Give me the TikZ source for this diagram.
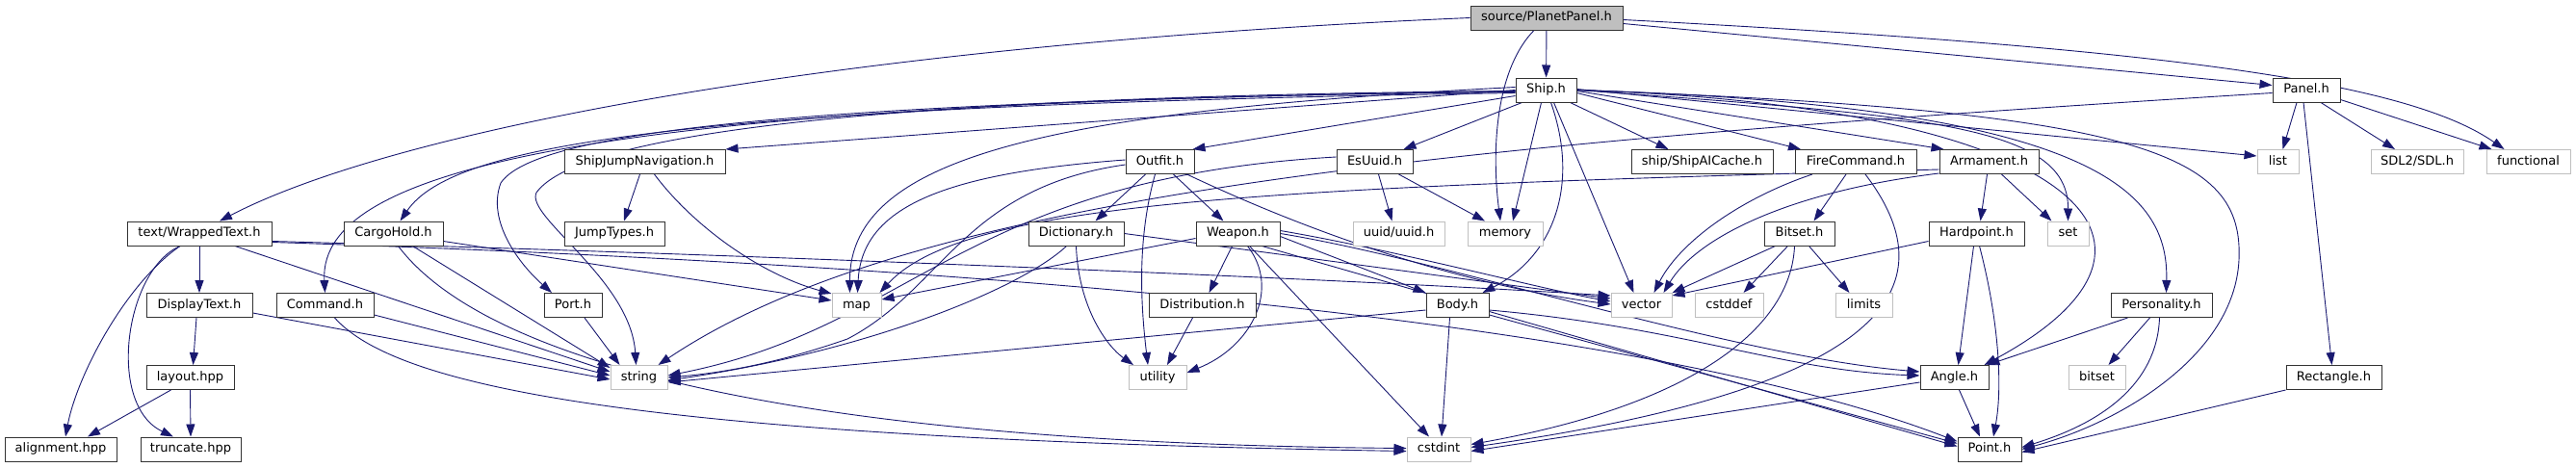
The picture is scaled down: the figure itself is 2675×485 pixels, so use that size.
\documentclass[tikz,border=0pt]{standalone}
\usepackage{fontspec}
\setmainfont{DejaVu Sans}
\usetikzlibrary{arrows.meta}
\definecolor{edgec}{RGB}{25,25,112}
\definecolor{grayb}{RGB}{191,191,191}
\pgfdeclarelayer{bg}
\pgfsetlayers{bg,main}
\begin{document}
\begin{tikzpicture}[x=1pt,y=1pt,
  hdr/.style={draw=black!80, line width=1pt, fill=white, minimum height=25pt, inner sep=0pt,
    text height=9.5pt, text depth=2.6pt, font=\fontsize{13}{15}\selectfont},
  sys/.style={hdr, draw=grayb},
  root/.style={hdr, fill=grayb},
  dep/.style={draw=edgec, line width=0.9pt, line join=round, -{Triangle[length=13pt,width=9pt]}}
]
\useasboundingbox (0,0) rectangle (2675,-485);
% row 0 / 1
\node[root, minimum width=158pt] (pp) at (1606,-18.5) {source/PlanetPanel.h};
\node[hdr, minimum width=63pt] (ship) at (1605.5,-93.5) {Ship.h};
\node[hdr, minimum width=70pt] (panel) at (2395,-93.5) {Panel.h};
% row 2
\node[hdr, minimum width=167pt] (sjn) at (669.5,-168) {ShipJumpNavigation.h};
\node[hdr, minimum width=71pt] (outfit) at (1204.5,-168) {Outfit.h};
\node[hdr, minimum width=79pt] (esuuid) at (1427.5,-168) {EsUuid.h};
\node[hdr, minimum width=147pt] (aic) at (1767.5,-168) {ship/ShipAICache.h};
\node[hdr, minimum width=126pt] (fc) at (1927,-168) {FireCommand.h};
\node[hdr, minimum width=103pt] (arm) at (2065.5,-168) {Armament.h};
\node[sys, minimum width=43pt] (list) at (2365.5,-168) {list};
\node[sys, minimum width=96pt] (sdl) at (2510,-168) {SDL2/SDL.h};
\node[sys, minimum width=87pt] (func) at (2625.5,-168) {functional};
% row 3
\node[hdr, minimum width=150pt] (wt) at (207,-242.5) {text/WrappedText.h};
\node[hdr, minimum width=103pt] (cargo) at (408.5,-242.5) {CargoHold.h};
\node[hdr, minimum width=104pt] (jump) at (638,-242.5) {JumpTypes.h};
\node[hdr, minimum width=99pt] (dict) at (1117.5,-242.5) {Dictionary.h};
\node[hdr, minimum width=87pt] (weapon) at (1285.5,-242.5) {Weapon.h};
\node[sys, minimum width=95pt] (uuid) at (1452.5,-242.5) {uuid/uuid.h};
\node[sys, minimum width=78pt] (memory) at (1563,-242.5) {memory};
\node[hdr, minimum width=73pt] (bitseth) at (1868.5,-242.5) {Bitset.h};
\node[hdr, minimum width=99pt] (hard) at (2052.5,-242.5) {Hardpoint.h};
\node[sys, minimum width=43pt] (set) at (2147.5,-242.5) {set};
% row 4
\node[hdr, minimum width=110pt] (disp) at (207,-317) {DisplayText.h};
\node[hdr, minimum width=101pt] (cmd) at (337.5,-317) {Command.h};
\node[hdr, minimum width=60pt] (port) at (595,-317) {Port.h};
\node[sys, minimum width=51pt] (map) at (889.5,-317) {map};
\node[hdr, minimum width=111pt] (distr) at (1248.5,-317) {Distribution.h};
\node[hdr, minimum width=65pt] (body) at (1513.5,-317) {Body.h};
\node[sys, minimum width=63pt] (vector) at (1704.5,-317) {vector};
\node[sys, minimum width=71pt] (cstddef) at (1795.5,-317) {cstddef};
\node[sys, minimum width=59pt] (limits) at (1935.5,-317) {limits};
\node[hdr, minimum width=105pt] (pers) at (2244.5,-317) {Personality.h};
% row 5
\node[hdr, minimum width=91pt] (layout) at (197.5,-392) {layout.hpp};
\node[sys, minimum width=59pt] (string) at (663.5,-392) {string};
\node[sys, minimum width=60pt] (utility) at (1202,-392) {utility};
\node[hdr, minimum width=71pt] (angle) at (2029.5,-392) {Angle.h};
\node[sys, minimum width=59pt] (bitsetstd) at (2177.5,-392) {bitset};
\node[hdr, minimum width=99pt] (rect) at (2423.5,-392) {Rectangle.h};
% row 6
\node[hdr, minimum width=116pt] (align) at (63,-466.5) {alignment.hpp};
\node[hdr, minimum width=104pt] (trunc) at (198,-466.5) {truncate.hpp};
\node[sys, minimum width=66pt] (cstdint) at (1494,-466.5) {cstdint};
\node[hdr, minimum width=66pt] (point) at (2066,-466.5) {Point.h};

\begin{pgfonlayer}{bg}
% PlanetPanel
\draw[dep] (pp) -- (ship);
\draw[dep] ([xshift=-13pt]pp.south) .. controls (1555,-70) and (1548,-150) .. ([xshift=-5pt]memory.north);
\draw[dep] ([yshift=-6pt]pp.east) -- ([yshift=5pt]panel.west);
\draw[dep] ([yshift=-2pt]pp.east) .. controls (2250,-50) and (2500,-85) .. ([xshift=-25pt]func.north);
\draw[dep] (pp.west) .. controls (900,-45) and (420,-130) .. ([xshift=21pt]wt.north);
% Ship
\draw[dep] (ship.west) -- (sjn.north east);
\draw[dep] ([yshift=-3pt]ship.west) .. controls (700,-110) and (470,-150) .. ([xshift=7pt]cargo.north);
\draw[dep] ([yshift=-2pt]ship.west) .. controls (640,-105) and (330,-170) .. (cmd.north);
\draw[dep] ([yshift=-1pt]ship.west) .. controls (900,-105) and (560,-130) .. (520,-190) .. controls (505,-230) and (540,-275) .. ([xshift=-22pt]port.north);
\draw[dep] ([yshift=-1pt]ship.west) .. controls (900,-100) and (600,-140) .. (557,-200) .. controls (545,-225) and (655,-290) .. ([xshift=-3pt]string.north);
\draw[dep] ([yshift=3pt]ship.west) .. controls (1100,-115) and (882,-160) .. ([xshift=-7pt]map.north);
\draw[dep] ([yshift=-6pt]ship.west) -- ([xshift=-2pt]outfit.north east);
\draw[dep] ([xshift=-25pt]ship.south) -- ([xshift=30pt]esuuid.north);
\draw[dep] ([xshift=-5pt]ship.south) -- ([xshift=8pt]memory.north);
\draw[dep] ([xshift=5pt]ship.south) .. controls (1640,-190) and (1615,-265) .. ([xshift=26pt]body.north);
\draw[dep] ([xshift=8pt]ship.south) -- ([xshift=-8pt]vector.north);
\draw[dep] ([xshift=25pt]ship.south) -- ([xshift=-35pt]aic.north);
\draw[dep] ([yshift=-3pt]ship.east) -- ([xshift=-57pt]fc.north);
\draw[dep] ([yshift=-1pt]ship.east) -- ([xshift=5pt]arm.north west);
\draw[dep] (ship.east) .. controls (2000,-120) and (2148,-130) .. (set.north);
\draw[dep] (ship.east) .. controls (2150,-110) and (2300,-250) .. ([xshift=-5pt]angle.north east);
\draw[dep] ([yshift=1pt]ship.east) -- ([yshift=6pt]list.west);
\draw[dep] (ship.east) .. controls (2180,-110) and (2252,-200) .. ([xshift=5pt]pers.north);
\draw[dep] (ship.east) .. controls (2230,-115) and (2330,-160) .. (2325,-270) .. controls (2320,-370) and (2200,-440) .. (point.east);
% Panel
\draw[dep] ([xshift=-10pt]panel.south) -- ([xshift=5pt]list.north);
\draw[dep] ([xshift=-3pt]panel.south) -- ([xshift=-2pt]rect.north);
\draw[dep] ([xshift=15pt]panel.south) -- ([xshift=-23pt]sdl.north);
\draw[dep] ([yshift=-10pt]panel.east) -- ([xshift=-38pt]func.north);
\draw[dep] ([yshift=-3pt]panel.west) .. controls (1500,-150) and (950,-200) .. ([xshift=-10pt]string.north east);
% Outfit
\draw[dep] ([yshift=2pt]outfit.west) .. controls (980,-180) and (895,-215) .. ([xshift=1pt]map.north);
\draw[dep] ([yshift=-3pt]outfit.west) .. controls (1000,-195) and (980,-300) .. (880,-352) .. controls (800,-380) and (740,-388) .. (string.east);
\draw[dep] ([xshift=-15pt]outfit.south) -- ([xshift=20pt]dict.north);
\draw[dep] ([xshift=14pt]outfit.south) -- ([xshift=-15pt]weapon.north);
\draw[dep] ([xshift=-5pt]outfit.south) .. controls (1180,-250) and (1185,-320) .. ([xshift=-10pt]utility.north);
\draw[dep] ([xshift=-8pt]outfit.south east) .. controls (1400,-260) and (1550,-300) .. ([yshift=1pt]vector.west);
% Weapon
\draw[dep] ([yshift=-5pt]weapon.west) -- ([yshift=6pt]map.east);
\draw[dep] ([xshift=-6pt]weapon.south) -- ([xshift=7pt]distr.north);
\draw[dep] ([xshift=10pt]weapon.south) .. controls (1330,-300) and (1300,-360) .. ([yshift=5pt]utility.east);
\draw[dep] ([yshift=-3pt]weapon.east) -- (body.north west);
\draw[dep] ([yshift=3pt]weapon.east) .. controls (1450,-260) and (1600,-300) .. ([yshift=4pt]vector.west);
\draw[dep] (weapon.east) .. controls (1500,-270) and (1800,-370) .. ([yshift=6pt]angle.west);
\draw[dep] ([xshift=25pt]weapon.south) -- ([yshift=3pt]point.west);
\draw[dep] ([xshift=12pt]weapon.south) -- ([xshift=-10pt]cstdint.north);
% Dictionary
\draw[dep] (dict.east) -- ([yshift=7pt]vector.west);
\draw[dep] ([xshift=-10pt]dict.south) .. controls (1060,-300) and (900,-365) .. ([yshift=-3pt]string.east);
\draw[dep] (dict.south) .. controls (1120,-320) and (1150,-360) .. ([xshift=-25pt]utility.north);
\draw[dep] ([xshift=-10pt]distr.south) -- ([xshift=10pt]utility.north);
% Body
\draw[dep] ([yshift=-5pt]body.west) -- ([yshift=-5pt]string.east);
\draw[dep] ([xshift=-8pt]body.south) -- ([xshift=3pt]cstdint.north);
\draw[dep] ([yshift=-5pt]body.east) .. controls (1750,-340) and (1850,-385) .. ([yshift=2pt]angle.west);
\draw[dep] ([yshift=-10pt]body.east) -- ([yshift=6pt]point.west);
% EsUuid
\draw[dep] ([xshift=4pt]esuuid.south) -- ([xshift=-7pt]uuid.north);
\draw[dep] ([xshift=25pt]esuuid.south) -- ([xshift=-21pt]memory.north);
\draw[dep] ([yshift=5pt]esuuid.west) .. controls (1000,-185) and (950,-340) .. ([yshift=2pt]string.east);
% CargoHold
\draw[dep] ([yshift=-8pt]cargo.east) -- ([yshift=5pt]map.west);
\draw[dep] ([xshift=20pt]cargo.south) -- ([yshift=10pt]string.west);
\draw[dep] ([xshift=5pt]cargo.south) .. controls (500,-370) and (800,-460) .. ([yshift=1pt]cstdint.west);
% Command
\draw[dep] ([yshift=-10pt]cmd.east) -- ([yshift=2pt]string.west);
\draw[dep] ([xshift=10pt]cmd.south) .. controls (410,-400) and (650,-455) .. ([yshift=-2pt]cstdint.west);
% Port
\draw[dep] ([xshift=12pt]port.south) -- ([xshift=-20pt]string.north);
% ShipJumpNavigation
\draw[dep] ([xshift=-5pt]sjn.south) -- ([xshift=10pt]jump.north);
\draw[dep] ([xshift=10pt]sjn.south) .. controls (720,-235) and (790,-285) .. ([yshift=12pt]map.west);
% WrappedText
\draw[dep] (wt) -- (disp);
\draw[dep] ([xshift=-20pt]wt.south) .. controls (130,-295) and (80,-390) .. ([xshift=5pt]align.north);
\draw[dep] ([xshift=-20pt]wt.south) .. controls (130,-280) and (110,-420) .. ([xshift=-18pt]trunc.north);
\draw[dep] ([xshift=37pt]wt.south) -- ([yshift=6pt]string.west);
\draw[dep] ([yshift=-8pt]wt.east) .. controls (800,-265) and (1400,-290) .. ([yshift=10pt]vector.west);
\draw[dep] ([yshift=-9pt]wt.east) .. controls (1000,-275) and (1700,-330) .. ([yshift=8pt]point.west);
% DisplayText
\draw[dep] ([xshift=-3pt]disp.south) -- ([xshift=3pt]layout.north);
\draw[dep] ([yshift=-8pt]disp.east) -- ([yshift=-2pt]string.west);
% layout
\draw[dep] ([xshift=-20pt]layout.south) -- ([xshift=28pt]align.north);
\draw[dep] (layout.south) -- (trunc.north);
% FireCommand
\draw[dep] ([xshift=-10pt]fc.south) -- ([xshift=15pt]bitseth.north);
\draw[dep] ([xshift=-45pt]fc.south) .. controls (1810,-205) and (1745,-250) .. ([xshift=13pt]vector.north);
\draw[dep] ([xshift=10pt]fc.south) .. controls (2020,-290) and (1980,-400) .. ([yshift=2pt]cstdint.east);
% Bitset
\draw[dep] ([xshift=-25pt]bitseth.south) -- (vector.north east);
\draw[dep] ([xshift=-12pt]bitseth.south) -- ([xshift=15pt]cstddef.north);
\draw[dep] ([xshift=10pt]bitseth.south) -- ([xshift=-15pt]limits.north);
\draw[dep] ([xshift=-5pt]bitseth.south) .. controls (1860,-340) and (1760,-420) .. ([yshift=5pt]cstdint.east);
% Armament
\draw[dep] ([xshift=-2pt]arm.south) -- ([xshift=4pt]hard.north);
\draw[dep] ([xshift=13pt]arm.south) -- ([xshift=-17pt]set.north);
\draw[dep] ([yshift=-8pt]arm.west) .. controls (1300,-195) and (1000,-210) .. ([xshift=-2pt]map.north east);
\draw[dep] ([yshift=-12pt]arm.west) .. controls (1850,-200) and (1760,-250) .. ([xshift=23pt]vector.north);
% Hardpoint
\draw[dep] ([yshift=-8pt]hard.west) -- ([yshift=-3pt]vector.north east);
\draw[dep] ([xshift=-3pt]hard.south) -- ([xshift=4pt]angle.north);
\draw[dep] ([xshift=3pt]hard.south) .. controls (2075,-330) and (2080,-400) .. ([xshift=4pt]point.north);
% Angle
\draw[dep] ([xshift=5pt]angle.south) -- ([xshift=-10pt]point.north);
\draw[dep] ([yshift=-5pt]angle.west) -- ([yshift=-2pt]cstdint.east);
% Personality
\draw[dep] ([xshift=-35pt]pers.south) -- ([xshift=-2pt]angle.north east);
\draw[dep] ([xshift=-12pt]pers.south) -- ([xshift=12pt]bitsetstd.north);
\draw[dep] ([xshift=-2pt]pers.south) .. controls (2240,-400) and (2180,-440) .. ([yshift=2pt]point.east);
% Rectangle
\draw[dep] (rect.south west) -- ([yshift=-3pt]point.east);
\end{pgfonlayer}
\end{tikzpicture}
\end{document}
